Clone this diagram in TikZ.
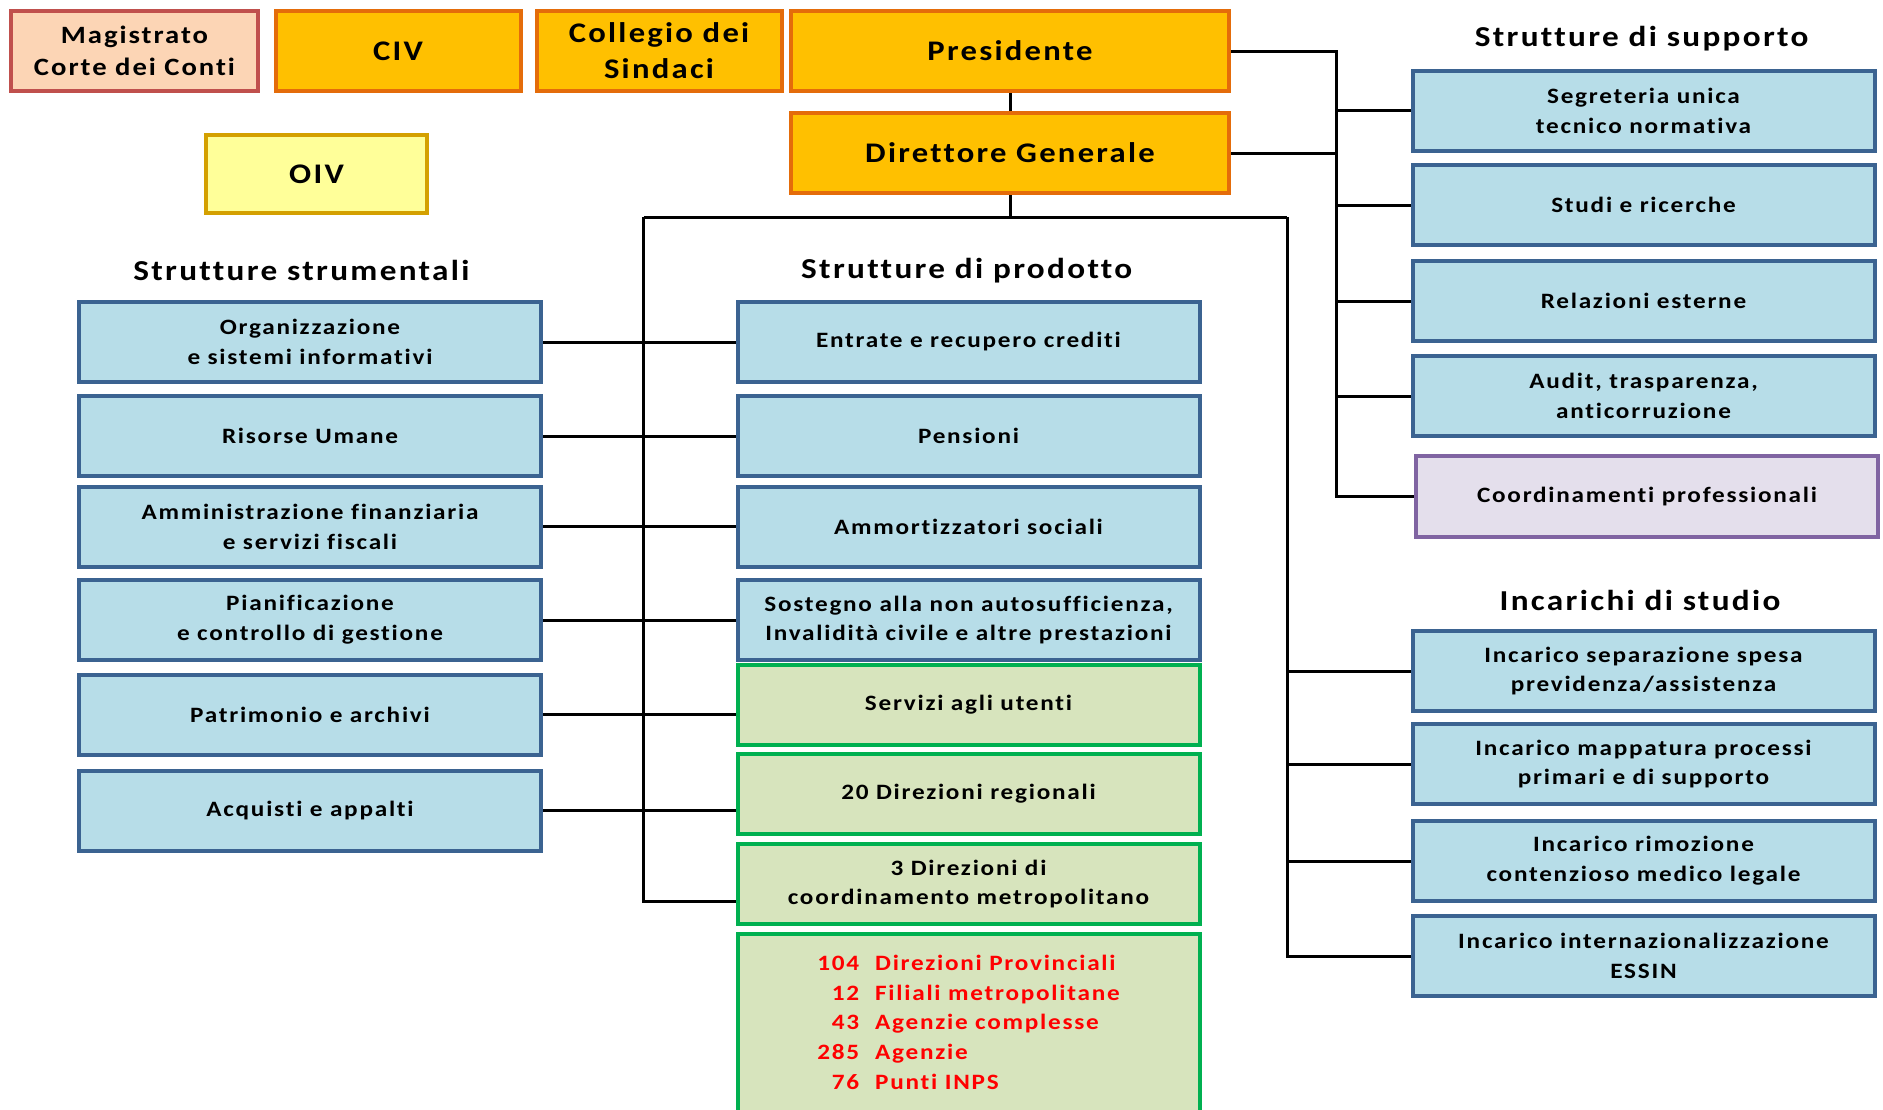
\documentclass[tikz,border=0pt]{standalone}
\usepackage{fontspec}
\setmainfont{Carlito}[FakeStretch=1.15, LetterSpace=8, Ligatures=NoCommon]
\definecolor{bluef}{HTML}{B7DDE8}
\definecolor{blueb}{HTML}{3B6391}
\definecolor{greenf}{HTML}{D7E4BD}
\definecolor{greenb}{HTML}{00B050}
\definecolor{orangef}{HTML}{FFC000}
\definecolor{orangeb}{HTML}{E46C0A}
\definecolor{peachf}{HTML}{FCD5B5}
\definecolor{peachb}{HTML}{C0504D}
\definecolor{yellowf}{HTML}{FFFF99}
\definecolor{yellowb}{HTML}{D4A000}
\definecolor{purplef}{HTML}{E4DFEC}
\definecolor{purpleb}{HTML}{8064A2}
\definecolor{redtxt}{HTML}{FF0000}
\newcommand{\boxfont}{\fontsize{22}{30}\selectfont\bfseries}
\newcommand{\bigfont}{\fontsize{28.5}{36}\selectfont\bfseries}
\newcommand{\headfont}{\fontsize{29}{32}\selectfont\bfseries}
\tikzset{
  basebox/.style={line width=4bp, align=center, inner sep=0pt, minimum height=80bp},
  bluebox/.style={basebox, draw=blueb, fill=bluef, minimum width=462bp, font=\boxfont},
  greenbox/.style={basebox, draw=greenb, fill=greenf, minimum width=462bp, font=\boxfont},
  purplebox/.style={basebox, draw=purpleb, fill=purplef, minimum width=462bp, font=\boxfont},
  orangebox/.style={basebox, draw=orangeb, fill=orangef, font=\bigfont},
  peachbox/.style={basebox, draw=peachb, fill=peachf, font=\fontsize{25}{32}\selectfont\bfseries},
  yellowbox/.style={basebox, draw=yellowb, fill=yellowf, font=\bigfont},
  heading/.style={font=\headfont, inner sep=0pt},
  conn/.style={line width=3bp, draw=black}
}
\begin{document}
\begin{tikzpicture}[x=1bp,y=-1bp]
\fill[white] (0,0) rectangle (1883,1109);
\useasboundingbox (0,0) rectangle (1883,1109);

% top row
\node[peachbox, minimum width=246bp] (mag) at (134.5,51) {Magistrato\\Corte dei Conti};
\node[orangebox, minimum width=245bp] (civ) at (398,51) {CIV};
\node[orangebox, minimum width=245bp] (col) at (659,51) {Collegio dei\\Sindaci};
\node[orangebox, minimum width=438bp] (pres) at (1010,51) {Presidente};
\node[orangebox, minimum width=438bp] (dg) at (1010,153) {Direttore Generale};
\node[yellowbox, minimum width=221bp, minimum height=78bp] (oiv) at (316.5,174) {OIV};

% headings
\node[heading] (hsup) at (1641.6,39) {Strutture di supporto};
\node[heading] (hinc) at (1640,600) {Incarichi di studio};
\node[heading] (hstr) at (301.4,270) {Strutture strumentali};
\node[heading] (hprod) at (966.7,271) {Strutture di prodotto};

% right column: supporto
\node[bluebox] (seg) at (1643.5,110.5) {Segreteria unica\\tecnico normativa};
\node[bluebox] (stu) at (1643.5,205) {Studi e ricerche};
\node[bluebox] (rel) at (1643.5,301) {Relazioni esterne};
\node[bluebox] (aud) at (1643.5,396) {Audit, trasparenza,\\anticorruzione};
\node[purplebox, minimum height=81bp] (coo) at (1647,496.5) {Coordinamenti professionali};

% right column: incarichi
\node[bluebox] (sep) at (1643.5,671) {Incarico separazione spesa\\previdenza/assistenza};
\node[bluebox] (map) at (1643.5,764) {Incarico mappatura processi\\primari e di supporto};
\node[bluebox] (rim) at (1643.5,861) {Incarico rimozione\\contenzioso medico legale};
\node[bluebox] (int) at (1643.5,956) {Incarico internazionalizzazione\\ESSIN};

% left column
\node[bluebox] (org) at (310,342) {Organizzazione\\e sistemi informativi};
\node[bluebox] (ris) at (310,436) {Risorse Umane};
\node[bluebox] (amm) at (310,526.6) {Amministrazione finanziaria\\e servizi fiscali};
\node[bluebox] (pia) at (310,620) {Pianificazione\\e controllo di gestione};
\node[bluebox] (pat) at (310,714.5) {Patrimonio e archivi};
\node[bluebox] (acq) at (310,810.6) {Acquisti e appalti};

% middle column
\node[bluebox] (ent) at (968.5,342) {Entrate e recupero crediti};
\node[bluebox] (pen) at (968.5,436) {Pensioni};
\node[bluebox] (amo) at (968.5,526.6) {Ammortizzatori sociali};
\node[bluebox] (sos) at (968.5,620) {Sostegno alla non autosufficienza,\\Invalidità civile e altre prestazioni};
\node[greenbox] (ser) at (968.5,705) {Servizi agli utenti};
\node[greenbox] (dir) at (968.5,794) {20 Direzioni regionali};
\node[greenbox] (met) at (968.5,884) {3 Direzioni di\\coordinamento metropolitano};
\node[greenbox, minimum height=180bp, text=redtxt] (ter) at (968.5,1024) {%
  \begin{tabular}{@{}r@{\hspace{16bp}}l@{}}
  104 & Direzioni Provinciali\\
  12 & Filiali metropolitane\\
  43 & Agenzie complesse\\
  285 & Agenzie\\
  76 & Punti INPS
  \end{tabular}};

% connector coordinates
\coordinate (busl) at (643.7,217.4);
\coordinate (busr) at (1287.4,217.4);
\coordinate (supx) at (1336.6,51);
\coordinate (metj) at (643.7,901.9);

% connectors
\draw[conn] (pres.south) -- (dg.north);
\draw[conn] (dg.south) -- (dg.south |- busl);
\draw[conn] (busl) -- (busr);
\draw[conn] (busl) -- (metj) -- (metj -| met.west);
\draw[conn] (busr) -- (busr |- int.west) -- (int.west);
\draw[conn] (busr |- sep.west) -- (sep.west);
\draw[conn] (busr |- map.west) -- (map.west);
\draw[conn] (busr |- rim.west) -- (rim.west);

\draw[conn] (pres.east) -- (supx) -- (supx |- coo.west) -- (coo.west);
\draw[conn] (dg.east) -- (dg.east -| supx);
\draw[conn] (supx |- seg.west) -- (seg.west);
\draw[conn] (supx |- stu.west) -- (stu.west);
\draw[conn] (supx |- rel.west) -- (rel.west);
\draw[conn] (supx |- aud.west) -- (aud.west);

\draw[conn] (org.east) -- (ent.west);
\draw[conn] (ris.east) -- (pen.west);
\draw[conn] (amm.east) -- (amo.west);
\draw[conn] (pia.east) -- (sos.west);
\draw[conn] (pat.east) -- (pat.east -| ser.west);
\draw[conn] (acq.east) -- (acq.east -| dir.west);
\end{tikzpicture}
\end{document}
